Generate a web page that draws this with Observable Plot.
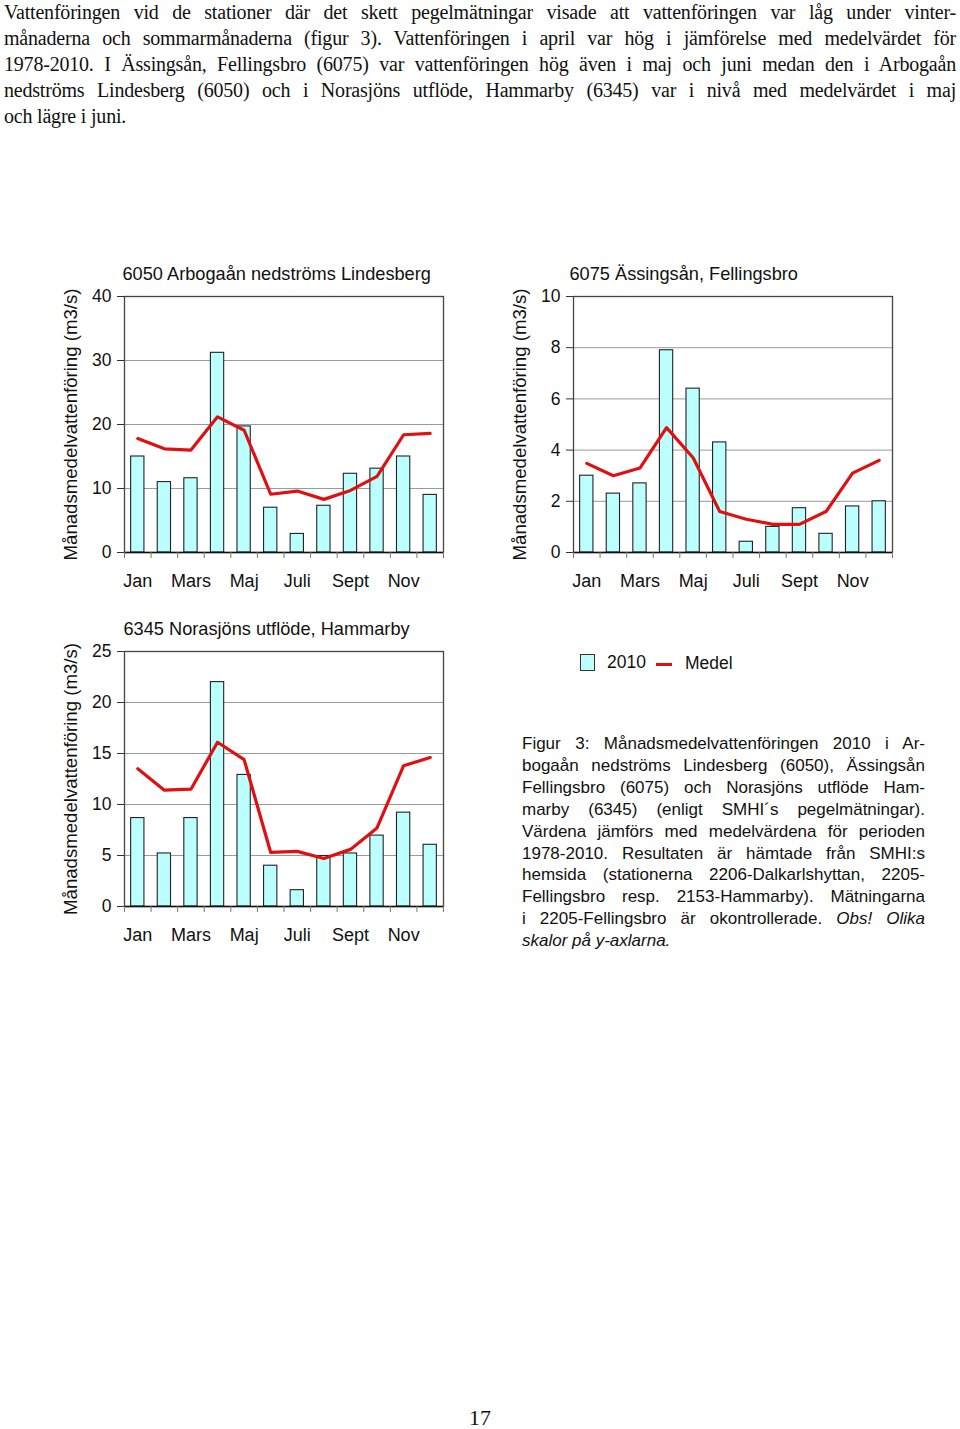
<!DOCTYPE html>
<html><head><meta charset="utf-8">
<script src="https://cdn.jsdelivr.net/npm/d3@7"></script>
<script src="https://cdn.jsdelivr.net/npm/@observablehq/plot@0.6"></script>
<style>
body{margin:0;background:#fff;}
#page{position:relative;width:960px;height:1429px;overflow:hidden;background:#fff;}
.para{position:absolute;left:4px;top:-1px;width:952px;font-family:"Liberation Serif","Times New Roman",serif;font-size:20px;line-height:26px;color:#111;letter-spacing:-0.2px;}
.jl{text-align:justify;text-align-last:justify;}
.chart{position:absolute;}
.caption{position:absolute;left:522px;top:733px;width:403px;font-family:"Liberation Sans",Arial,sans-serif;font-size:17px;line-height:21.9px;color:#111;}
.legend{position:absolute;font-family:"Liberation Sans",Arial,sans-serif;font-size:17.5px;color:#111;}
.pnum{position:absolute;left:0;width:960px;top:1405px;text-align:center;font-family:"Liberation Serif","Times New Roman",serif;font-size:22px;color:#111;}
</style>
</head><body>
<div id="page">
  <div class="para">
    <div class="jl">Vattenföringen vid de stationer där det skett pegelmätningar visade att vattenföringen var låg under vinter-</div>
    <div class="jl">månaderna och sommarmånaderna (figur 3). Vattenföringen i april var hög i jämförelse med medelvärdet för</div>
    <div class="jl">1978-2010. I Ässingsån, Fellingsbro (6075) var vattenföringen hög även i maj och juni medan den i Arbogaån</div>
    <div class="jl">nedströms Lindesberg (6050) och i Norasjöns utflöde, Hammarby (6345) var i nivå med medelvärdet i maj</div>
    <div>och lägre i juni.</div>
  </div>
  <div id="c1" class="chart" style="left:40px;top:260px;"></div>
  <div id="c2" class="chart" style="left:489px;top:260px;"></div>
  <div id="c3" class="chart" style="left:40px;top:615px;"></div>
  <div class="legend" style="left:580px;top:654px;width:15px;height:17px;box-sizing:border-box;border:1.2px solid #333;background:#bbffff;"></div>
  <div class="legend" style="left:607px;top:652px;line-height:20px;">2010</div>
  <div class="legend" style="left:656px;top:663px;width:16px;height:3px;background:#e01010;"></div>
  <div class="legend" style="left:685px;top:653px;line-height:20px;">Medel</div>
  <div class="caption">
    <div class="jl">Figur 3: Månadsmedelvattenföringen 2010 i Ar-</div>
    <div class="jl">bogaån nedströms Lindesberg (6050), Ässingsån</div>
    <div class="jl">Fellingsbro (6075) och Norasjöns utflöde Ham-</div>
    <div class="jl">marby (6345) (enligt SMHI´s pegelmätningar).</div>
    <div class="jl">Värdena jämförs med medelvärdena för perioden</div>
    <div class="jl">1978-2010. Resultaten är hämtade från SMHI:s</div>
    <div class="jl">hemsida (stationerna 2206-Dalkarlshyttan, 2205-</div>
    <div class="jl">Fellingsbro resp. 2153-Hammarby). Mätningarna</div>
    <div class="jl">i 2205-Fellingsbro är okontrollerade. <i>Obs! Olika</i></div>
    <div><i>skalor på y-axlarna.</i></div>
  </div>
  <div class="pnum">17</div>
</div>
<script>
const monthNames = ["Jan","Feb","Mars","April","Maj","Juni","Juli","Aug","Sept","Okt","Nov","Dec"];
const tickLabels = ["Jan","Mars","Maj","Juli","Sept","Nov"];
const yLabel = "Månadsmedelvattenföring (m3/s)";

const title_6050 = "6050 Arbogaån nedströms Lindesberg";
const flow2010_6050 = [15.0, 11.0, 11.6, 31.2, 19.7, 7.0, 2.9, 7.3, 12.3, 13.1, 15.0, 9.0];
const mean_6050 = [17.8, 16.2, 16.0, 21.2, 19.1, 9.1, 9.6, 8.3, 9.7, 11.9, 18.4, 18.6];
const yTicks_6050 = [0, 10, 20, 30, 40];

const title_6075 = "6075 Ässingsån, Fellingsbro";
const flow2010_6075 = [3.0, 2.3, 2.7, 7.9, 6.4, 4.3, 0.42, 1.0, 1.73, 0.73, 1.8, 2.0];
const mean_6075 = [3.48, 3.0, 3.3, 4.88, 3.7, 1.6, 1.3, 1.1, 1.1, 1.6, 3.1, 3.6];
const yTicks_6075 = [0, 2, 4, 6, 8, 10];

const title_6345 = "6345 Norasjöns utflöde, Hammarby";
const flow2010_6345 = [8.67, 5.2, 8.67, 22.0, 12.9, 4.0, 1.6, 4.95, 5.2, 6.95, 9.2, 6.05];
const mean_6345 = [13.5, 11.4, 11.5, 16.1, 14.4, 5.3, 5.4, 4.7, 5.6, 7.7, 13.8, 14.6];
const yTicks_6345 = [0, 5, 10, 15, 20, 25];

function makeChart({title, flow, mean, yTicks, height, titleDx}) {
  const W = 420, ml = 84, mr = 17, mt = 36, mb = 48;
  const step = (W - ml - mr) / monthNames.length;
  const rows = monthNames.map((m, i) => ({month: m, flow: flow[i], mean: mean[i]}));
  return Plot.plot({
    width: W, height,
    marginLeft: ml, marginRight: mr, marginTop: mt, marginBottom: mb,
    style: {fontFamily: "'Liberation Sans', Arial, sans-serif", fontSize: "17px", color: "#111", background: "transparent", overflow: "visible"},
    x: {domain: monthNames, paddingInner: 0.5, paddingOuter: 0.25, round: false, label: null},
    y: {domain: [yTicks[0], yTicks[yTicks.length - 1]], label: null},
    marks: [
      Plot.gridY(yTicks, {stroke: "#9a9a9a", strokeOpacity: 1}),
      Plot.barY(rows, {x: "month", y: "flow", fill: "#bbffff", stroke: "#222", strokeWidth: 1.1}),
      Plot.lineY(rows, {x: "month", y: "mean", stroke: "#e01010", strokeWidth: 3.2}),
      Plot.frame({stroke: "#444", strokeWidth: 1.3}),
      Plot.ruleY([yTicks[0]], {stroke: "#111", strokeWidth: 1.5}),
      Plot.axisY(yTicks, {tickSize: 7, tickPadding: 6, fontSize: 17.5, stroke: "#333", label: null}),
      Plot.axisX(tickLabels, {tickSize: 0, tickPadding: 22, fontSize: 18, label: null}),
      Plot.axisX(monthNames, {tickSize: 6, tickFormat: () => "", dx: -step / 2, stroke: "#777", label: null}),
      Plot.axisX(monthNames.slice(-1), {tickSize: 6, tickFormat: () => "", dx: step / 2, stroke: "#777", label: null}),
      Plot.text([title], {text: d => d, frameAnchor: "top-left", dy: -22, dx: titleDx, textAnchor: "start", lineAnchor: "middle", fontSize: 18.2}),
      Plot.text([yLabel], {text: d => d, frameAnchor: "left", rotate: -90, dx: -53, textAnchor: "middle", lineAnchor: "middle", fontSize: 18.6})
    ]
  });
}

document.getElementById("c1").append(makeChart({title: title_6050, flow: flow2010_6050, mean: mean_6050, yTicks: yTicks_6050, height: 340, titleDx: -2}));
document.getElementById("c2").append(makeChart({title: title_6075, flow: flow2010_6075, mean: mean_6075, yTicks: yTicks_6075, height: 340, titleDx: -4}));
document.getElementById("c3").append(makeChart({title: title_6345, flow: flow2010_6345, mean: mean_6345, yTicks: yTicks_6345, height: 339, titleDx: -1}));
</script>
</body></html>
